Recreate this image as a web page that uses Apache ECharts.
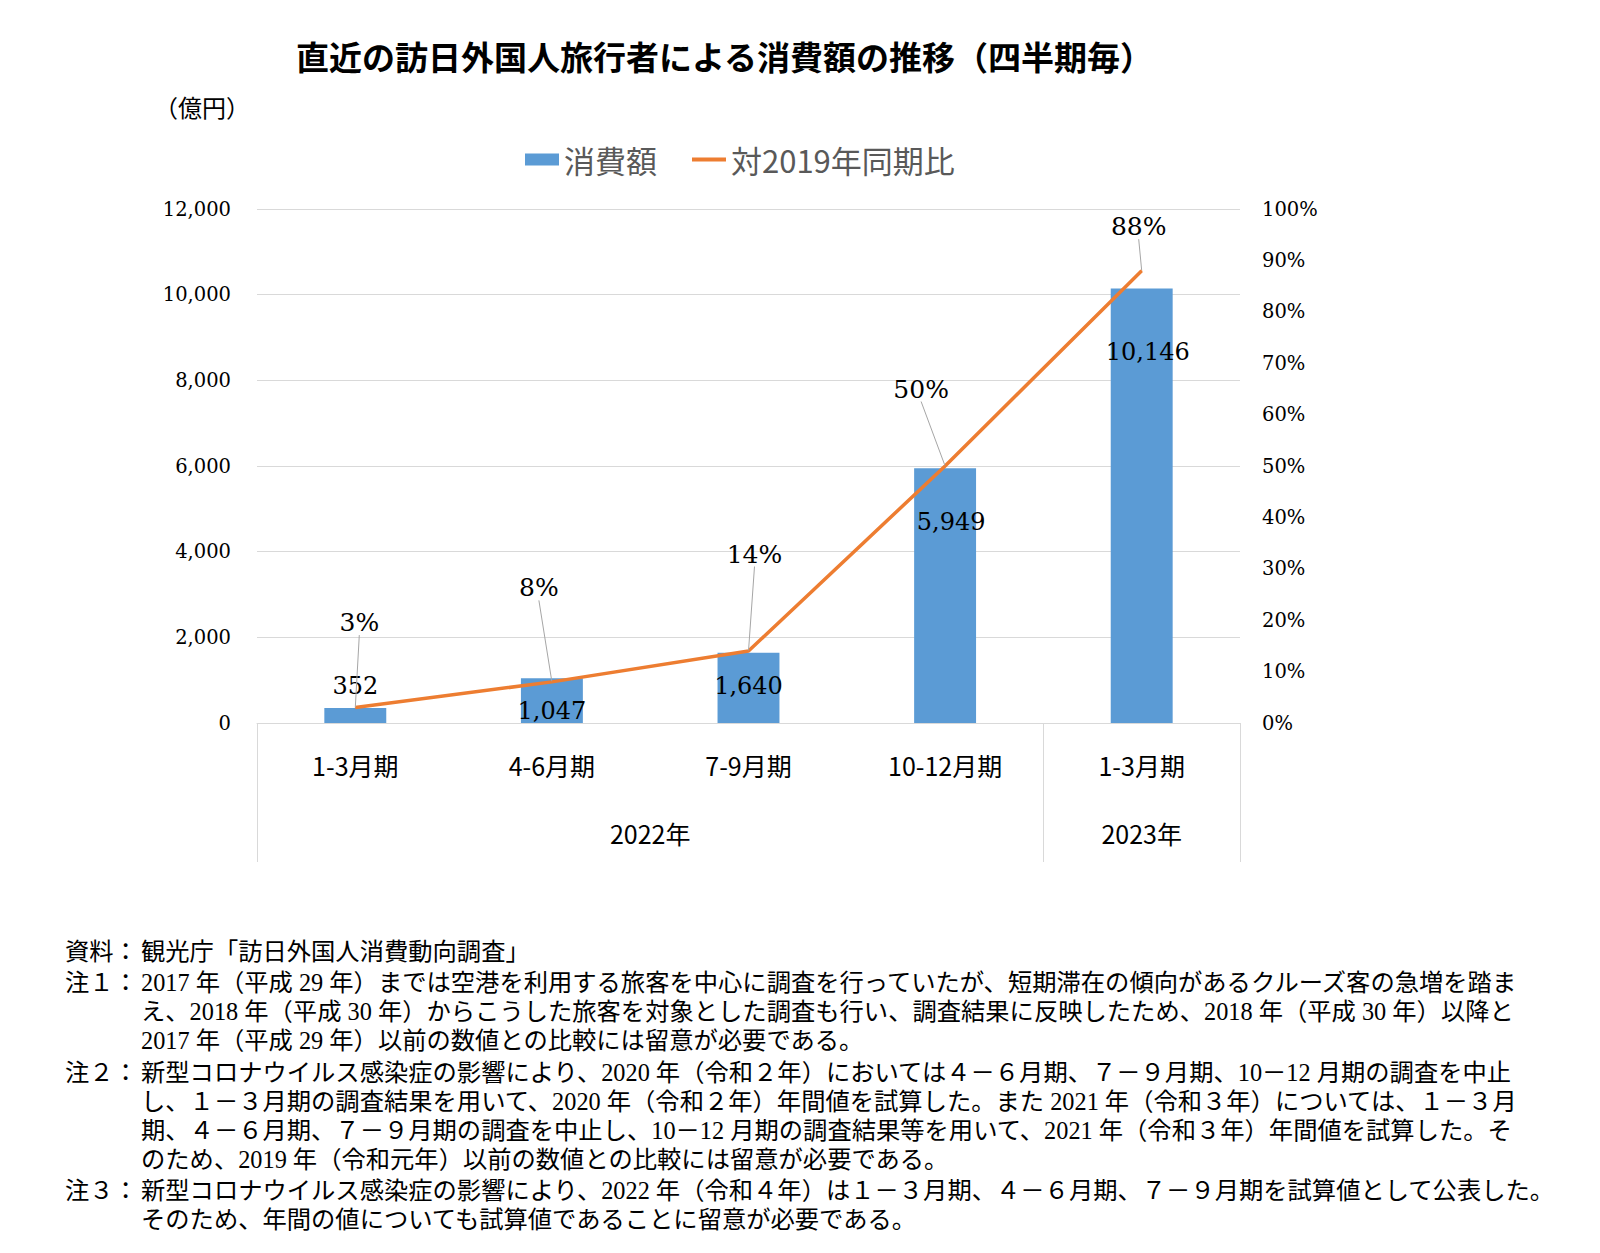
<!DOCTYPE html>
<html><head><meta charset="utf-8">
<script src="https://cdn.jsdelivr.net/npm/echarts@6/dist/echarts.min.js"></script>
<style>html,body{margin:0;padding:0;background:#fff}#c{width:1600px;height:1253px}</style>
</head><body><div id="c"></div>
<script>
// ---- data ----
const titleText = '直近の訪日外国人旅行者による消費額の推移（四半期毎）';
const unitText = '（億円）';
const seriesNames = ['消費額', '対2019年同期比'];
const quarters = ['1-3月期', '4-6月期', '7-9月期', '10-12月期', '1-3月期'];
const years = ['2022年', '2023年'];
const quartersPerYear = [4, 1];
const spending = [352, 1047, 1640, 5949, 10146];      // 億円
const ratioPct = [3, 8, 14, 50, 88];                  // % vs 2019
const leftAxisMin = 0, leftAxisMax = 12000, leftAxisStep = 2000;
const rightAxisMin = 0, rightAxisMax = 100, rightAxisStep = 10;
const noteHeads = ['資料：', '注１：', '注２：', '注３：'];
const noteBodies = [
  ['観光庁「訪日外国人消費動向調査」'],
  ['2017 年（平成 29 年）までは空港を利用する旅客を中心に調査を行っていたが、短期滞在の傾向があるクルーズ客の急増を踏ま',
   'え、2018 年（平成 30 年）からこうした旅客を対象とした調査も行い、調査結果に反映したため、2018 年（平成 30 年）以降と',
   '2017 年（平成 29 年）以前の数値との比較には留意が必要である。'],
  ['新型コロナウイルス感染症の影響により、2020 年（令和２年）においては４－６月期、７－９月期、10－12 月期の調査を中止',
   'し、１－３月期の調査結果を用いて、2020 年（令和２年）年間値を試算した。また 2021 年（令和３年）については、１－３月',
   '期、４－６月期、７－９月期の調査を中止し、10－12 月期の調査結果等を用いて、2021 年（令和３年）年間値を試算した。そ',
   'のため、2019 年（令和元年）以前の数値との比較には留意が必要である。'],
  ['新型コロナウイルス感染症の影響により、2022 年（令和４年）は１－３月期、４－６月期、７－９月期を試算値として公表した。',
   'そのため、年間の値についても試算値であることに留意が必要である。']
];

// ---- layout / style (not data) ----
const barLabelOffsets = [[0, -10], [0, 45], [0, 45], [6, 66], [6, 76]];
const ratioLabelShift = [[4, -85], [-13, -94], [6, -97], [-24, -77], [-3, -44]];
const SERIF = '"DejaVu Serif", "Liberation Serif", serif';
const SANS = '"Noto Sans CJK JP", "Noto Sans", sans-serif';
const NOTE_FAMILY = '"Liberation Serif", "Noto Sans CJK JP", serif';
const GRID = {left: 257, right: 360, top: 209, bottom: 530};
const NOTE_FONT = 24.3, NOTE_LH = 29, NOTE_GROUP_GAP = 2.5;

// year boundaries / centers derived from quartersPerYear
const yearBounds = [0];
quartersPerYear.forEach(n => yearBounds.push(yearBounds[yearBounds.length - 1] + n));
const yearCenters = years.map((_, i) => (yearBounds[i] + yearBounds[i + 1]) / 2);

// notes graphic: one head text + one multi-line body text per note
const noteGraphics = [];
let ny = 951;
noteBodies.forEach((lines, gi) => {
  const top = ny - NOTE_LH / 2;
  noteGraphics.push({type: 'text', left: 65, top: top,
    style: {text: noteHeads[gi], font: NOTE_FONT + 'px ' + NOTE_FAMILY, lineHeight: NOTE_LH, fill: '#000'}});
  noteGraphics.push({type: 'text', left: 141, top: top,
    style: {text: lines.join('\n'), font: NOTE_FONT + 'px ' + NOTE_FAMILY, lineHeight: NOTE_LH, fill: '#000'}});
  ny += lines.length * NOTE_LH + NOTE_GROUP_GAP;
});

const chart = echarts.init(document.getElementById('c'), null, {renderer: 'svg'});
chart.setOption({
  backgroundColor: '#fff',
  animation: false,
  title: {
    text: titleText, left: 291, top: 34,
    textStyle: {fontFamily: SANS, fontSize: 33, fontWeight: 'bold', color: '#000'}
  },
  legend: {
    left: 520, top: 139,
    itemWidth: 34, itemHeight: 12, itemGap: 35,
    textStyle: {fontFamily: SANS, fontSize: 31, color: '#595959'},
    data: [
      {name: seriesNames[0], icon: 'rect'},
      {name: seriesNames[1], icon: 'path://M0,0H35V4H0Z'}
    ]
  },
  graphic: [
    {type: 'text', left: 154, top: 94,
     style: {text: unitText, font: '24px ' + SANS, fill: '#000'}},
    ...noteGraphics
  ],
  grid: GRID,
  xAxis: [
    {
      type: 'category', data: quarters,
      axisLine: {lineStyle: {color: '#d9d9d9', width: 1}},
      axisTick: {show: false},
      axisLabel: {fontFamily: SANS, fontSize: 25, color: '#000', margin: 29, interval: 0}
    },
    {
      type: 'value', min: 0, max: quarters.length, position: 'bottom',
      axisLine: {show: false}, splitLine: {show: false},
      axisTick: {show: true, customValues: yearBounds, length: 139, lineStyle: {color: '#d9d9d9', width: 1}},
      axisLabel: {
        customValues: yearCenters, margin: 97,
        fontFamily: SANS, fontSize: 25, color: '#000',
        formatter: v => { const i = yearCenters.findIndex(c => Math.abs(c - v) < 1e-6); return i >= 0 ? years[i] : ''; }
      }
    }
  ],
  yAxis: [
    {
      type: 'value', min: leftAxisMin, max: leftAxisMax, interval: leftAxisStep,
      axisLine: {show: false}, axisTick: {show: false},
      splitLine: {lineStyle: {color: '#d9d9d9', width: 1}},
      axisLabel: {fontFamily: SERIF, fontSize: 19.5, color: '#000', margin: 26,
        formatter: v => v.toLocaleString('en-US')}
    },
    {
      type: 'value', min: rightAxisMin, max: rightAxisMax, interval: rightAxisStep,
      axisLine: {show: false}, axisTick: {show: false}, splitLine: {show: false},
      axisLabel: {fontFamily: SERIF, fontSize: 19.5, color: '#000', margin: 22,
        formatter: v => v + '%'}
    }
  ],
  series: [
    {
      name: seriesNames[0], type: 'bar', xAxisIndex: 0, yAxisIndex: 0,
      barWidth: '31.5%',
      itemStyle: {color: '#5B9BD5'},
      label: {show: true, position: 'top', distance: 0,
        fontFamily: SERIF, fontSize: 24, color: '#000',
        formatter: p => Number(p.value).toLocaleString('en-US')},
      data: spending.map((v, i) => ({value: v, label: {offset: barLabelOffsets[i]}})),
      z: 2
    },
    {
      name: seriesNames[1], type: 'line', xAxisIndex: 0, yAxisIndex: 1,
      data: ratioPct,
      symbol: 'circle', symbolSize: 1, showSymbol: true,
      lineStyle: {color: '#ED7D31', width: 3.5},
      itemStyle: {color: '#ED7D31'},
      label: {show: true, position: 'inside',
        fontFamily: SERIF, fontSize: 25, color: '#000', formatter: '{c}%'},
      labelLine: {show: true, lineStyle: {color: '#a6a6a6', width: 1}},
      labelLayout: p => ({dx: ratioLabelShift[p.dataIndex][0], dy: ratioLabelShift[p.dataIndex][1]}),
      z: 3
    }
  ]
});
</script></body></html>
